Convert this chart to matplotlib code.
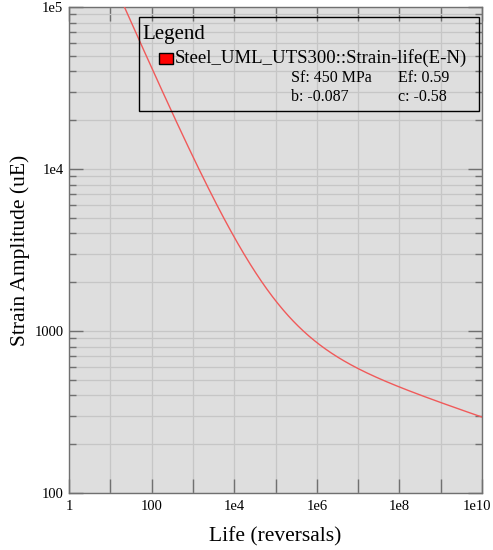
import numpy as np
import matplotlib.pyplot as plt
from matplotlib.patches import Rectangle
from matplotlib.ticker import LogLocator, FixedLocator, FixedFormatter, NullFormatter, NullLocator

# Parâmetros do material (curva deformação-vida, Coffin-Manson)
material = "Steel_UML_UTS300::Strain-life(E-N)"
sf = 450.0       # MPa
ef = 0.59
b = -0.087
c = -0.58
modulo = 207000.0  # MPa

# Rótulos dos eixos
x_ticks = [1, 1e2, 1e4, 1e6, 1e8, 1e10]
x_labels = ["1", "100", "1e4", "1e6", "1e8", "1e10"]
y_ticks = [100, 1000, 1e4, 1e5]
y_labels = ["100", "1000", "1e4", "1e5"]

plt.rcParams['font.family'] = ['Liberation Serif', 'DejaVu Serif']

# Curva: deformação total em microdeformações
n = np.logspace(0, 10, 600)
deform = (sf / modulo * n ** b + ef * n ** c) * 1e6

W, H = 493, 550
fig = plt.figure(figsize=(W / 100, H / 100), dpi=100)
ax = fig.add_axes([69 / W, 1 - 493 / H, 413 / W, 486 / H])
ax.set_facecolor("#dedede")

ax.plot(n, deform, color="#f05a5a", lw=1.0, zorder=3)

ax.set_xscale("log")
ax.set_yscale("log")
ax.set_xlim(1, 1e10)
ax.set_ylim(100, 1e5)

# Grade: décadas no eixo x, subdivisões no eixo y
ax.xaxis.set_major_locator(FixedLocator([10.0 ** k for k in range(11)]))
ax.xaxis.set_major_formatter(NullFormatter())
ax.xaxis.set_minor_locator(NullLocator())
ax.yaxis.set_major_locator(FixedLocator(y_ticks))
ax.yaxis.set_major_formatter(FixedFormatter(y_labels))
ax.yaxis.set_minor_locator(LogLocator(base=10, subs=np.arange(2, 10)))
ax.yaxis.set_minor_formatter(NullFormatter())

ax.grid(True, which="major", axis="x", color="#c6c6c6", lw=0.9)
ax.grid(True, which="both", axis="y", color="#c6c6c6", lw=0.9)
ax.set_axisbelow(True)

ax.tick_params(which="major", direction="in", length=10, width=1.0, color="#707070",
               top=True, right=True, labelsize=10.5, pad=4)
ax.tick_params(which="minor", direction="in", length=5, width=1.0, color="#707070",
               left=True, right=True)
for lado in ax.spines.values():
    lado.set_color("#707070")
    lado.set_linewidth(1.0)

# Rótulos apenas nas décadas pares (o último fica alinhado à borda)
for xv, txt in zip(x_ticks, x_labels):
    if xv == x_ticks[-1]:
        ax.text(1.0 + 9 / 413, -14 / 486, txt, transform=ax.transAxes, ha="right",
                va="center", fontsize=10.5)
    else:
        ax.text(xv, -14 / 486, txt, transform=ax.get_xaxis_transform(), ha="center",
                va="center", fontsize=10.5)

# Títulos dos eixos
fig.text(275 / W, 1 - 537 / H, "Life (reversals)", ha="center", va="center", fontsize=15.5)
fig.text(20 / W, 1 - 250 / H, "Strain Amplitude (uE)", ha="center", va="center",
         rotation=90, fontsize=15.5)

# Legenda desenhada manualmente
ax.add_patch(Rectangle((0.169, 0.786), 0.824, 0.193, transform=ax.transAxes,
                       fill=False, edgecolor="black", lw=1.0, zorder=5))
ax.text(0.177, 0.944, "Legend", transform=ax.transAxes, fontsize=15, va="center", zorder=6)
ax.add_patch(Rectangle((0.218, 0.882), 0.034, 0.023, transform=ax.transAxes,
                       facecolor="#ff0000", edgecolor="black", lw=1.0, zorder=6))
ax.text(0.256, 0.894, material, transform=ax.transAxes, fontsize=13.5, va="center", zorder=6)
ax.text(0.538, 0.853, f"Sf: {sf:.0f} MPa", transform=ax.transAxes, fontsize=11.5,
        va="center", zorder=6)
ax.text(0.797, 0.853, f"Ef: {ef}", transform=ax.transAxes, fontsize=11.5, va="center", zorder=6)
ax.text(0.538, 0.815, f"b: {b}", transform=ax.transAxes, fontsize=11.5, va="center", zorder=6)
ax.text(0.797, 0.815, f"c: {c}", transform=ax.transAxes, fontsize=11.5, va="center", zorder=6)

fig.savefig("out.png", dpi=100)
